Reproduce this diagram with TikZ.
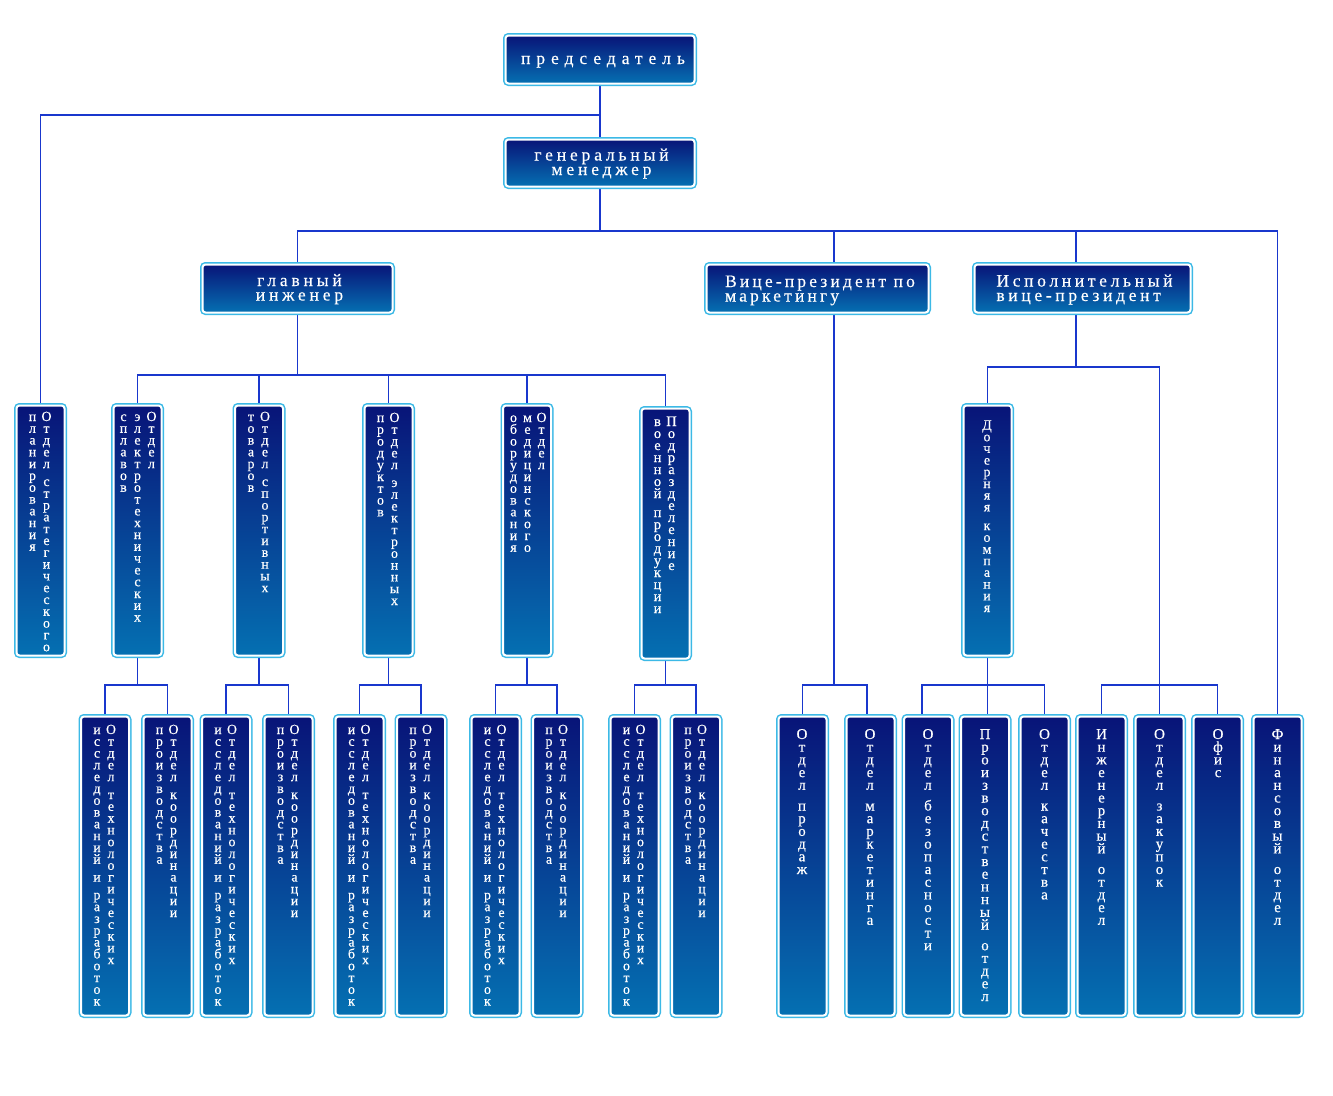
\documentclass[tikz,border=0pt]{standalone}
\usepackage{fontspec}
\setmainfont{Liberation Serif}
\usetikzlibrary{backgrounds}
\definecolor{boxtop}{RGB}{8,20,120}
\definecolor{boxbot}{RGB}{5,112,178}
\definecolor{boxrim}{RGB}{60,185,230}
\definecolor{wirecol}{RGB}{25,55,205}
\ExplSyntaxOn
\dim_new:N \l_vs_pitch_dim
\dim_new:N \l_vs_gap_dim
\seq_new:N \l_vs_words_seq
\bool_new:N \l_vs_first_bool
\NewDocumentCommand \vst { m }
 {
  \vtop
   {
    \baselineskip=\l_vs_pitch_dim
    \lineskiplimit=-\maxdimen
    \lineskip=0pt
    \seq_set_split:Nnn \l_vs_words_seq { ~ } { #1 }
    \bool_set_true:N \l_vs_first_bool
    \seq_map_inline:Nn \l_vs_words_seq
     {
      \bool_if:NF \l_vs_first_bool { \kern \l_vs_gap_dim }
      \bool_set_false:N \l_vs_first_bool
      \tl_map_inline:nn { ##1 } { \hbox_to_wd:nn { 0pt } { \hss ####1 \hss } }
     }
   }
 }
\NewDocumentCommand \setvs { m m }
 { \dim_set:Nn \l_vs_pitch_dim {#1} \dim_set:Nn \l_vs_gap_dim {#2} }
\ExplSyntaxOff
\newcommand\twocol[2]{\hbox{\vst{#2}\hskip14pt\vst{#1}}}
\newcommand\threecol[3]{\hbox{\vst{#3}\hskip14pt\vst{#2}\hskip14pt\vst{#1}}}
\newcommand\tlc[2]{\vtop{\baselineskip=14.5pt\halign{\hfil##\hfil\cr#1\cr#2\cr}}}
\newcommand\tll[2]{\vtop{\baselineskip=14.5pt\halign{##\hfil\cr#1\cr#2\cr}}}
\tikzset{
  bx/.style={rectangle, rounded corners=3pt, inner sep=0pt, top color=boxtop,
    bottom color=boxbot, draw=white, line width=2pt,
    preaction={draw=boxrim, line width=5pt}},
  wire/.style={draw=wirecol, line width=1.2pt},
  htxt/.style={text=white, inner sep=0pt, anchor=base,
    font=\fontsize{17.5}{14.5}\selectfont\addfontfeatures{LetterSpace=22,FakeBold=0.3}},
  vtxtL/.style={text=white, inner sep=0pt, anchor=base,
    font=\fontsize{14}{14}\selectfont\addfontfeatures{FakeBold=0.35}\setvs{11.8pt}{6pt}},
  vtxtR/.style={text=white, inner sep=0pt, anchor=base,
    font=\fontsize{15}{15}\selectfont\addfontfeatures{FakeBold=0.35}\setvs{12.7pt}{8pt}}
}
\newcommand\bx[5]{\node[bx, minimum width={#4pt-5pt}, minimum height={#5pt-5pt}] (#1) at (#2,#3) {};}
\begin{document}
\begin{tikzpicture}[x=1pt,y=-1pt]
\useasboundingbox (0,0) rectangle (1333,1095);
% ---- boxes
\bx{chair}{600}{59.5}{194}{53}
\bx{gm}{600}{163}{194}{52}
\bx{chief}{297.5}{288.5}{195}{53}
\bx{vpm}{817.5}{288.5}{227}{53}
\bx{evp}{1082.5}{288.5}{221}{53}
\bx{strat}{40.5}{530.5}{53}{255}
\bx{elec}{137.5}{530.5}{53}{255}
\bx{sport}{259}{530.5}{53}{255}
\bx{electr}{388.5}{530.5}{53}{255}
\bx{med}{527}{530.5}{53}{255}
\bx{mil}{665.5}{533.5}{53}{255}
\bx{sub}{987.5}{530.5}{53}{255}
\bx{a1}{105}{866}{53}{304}
\bx{a2}{167.5}{866}{53}{304}
\bx{b1}{226}{866}{53}{304}
\bx{b2}{288.5}{866}{53}{304}
\bx{c1}{359.5}{866}{53}{304}
\bx{c2}{421}{866}{53}{304}
\bx{d1}{495.5}{866}{53}{304}
\bx{d2}{557}{866}{53}{304}
\bx{e1}{634.5}{866}{53}{304}
\bx{e2}{696}{866}{53}{304}
\bx{r1}{802.5}{866}{53}{304}
\bx{r2}{870.5}{866}{53}{304}
\bx{r3}{928}{866}{53}{304}
\bx{r4}{985}{866}{53}{304}
\bx{r5}{1044.5}{866}{53}{304}
\bx{r6}{1101.5}{866}{53}{304}
\bx{r7}{1159.5}{866}{53}{304}
\bx{r8}{1217.5}{866}{53}{304}
\bx{fin}{1277.5}{866}{53}{304}
% ---- horizontal texts
\node[htxt, font=\fontsize{17.5}{14.5}\selectfont\addfontfeatures{LetterSpace=34,FakeBold=0.3}] (t-chair) at (603,64) {председатель};
\node[htxt] (t-gm) at (601.5,160.5) {\tlc{генеральный}{менеджер}};
\node[htxt] (t-chief) at (299.5,286) {\tlc{главный}{инженер}};
\node[htxt, font=\fontsize{17.5}{14.5}\selectfont\addfontfeatures{LetterSpace=18,FakeBold=0.3}] (t-vpm) at (820,287) {\tll{Вице-президент по}{маркетингу}};
\node[htxt, font=\fontsize{17.5}{14.5}\selectfont\addfontfeatures{LetterSpace=21,FakeBold=0.3}] (t-evp) at (1084.5,286.5) {\tll{Исполнительный}{вице-президент}};
% ---- row 2 texts
\node[vtxtL] (t-strat) at (39.5,421) {\twocol{Отдел стратегического}{планирования}};
\node[vtxtL] (t-elec) at (137.5,421) {\threecol{Отдел}{электротехнических}{сплавов}};
\node[vtxtL] (t-sport) at (258,421) {\twocol{Отдел спортивных}{товаров}};
\node[vtxtL] (t-electr) at (387.5,422) {\twocol{Отдел электронных}{продуктов}};
\node[vtxtL] (t-med) at (527.5,422) {\threecol{Отдел}{медицинского}{оборудования}};
\node[vtxtL, font=\fontsize{14.5}{15}\selectfont\addfontfeatures{FakeBold=0.35}\setvs{12pt}{7pt}] (t-mil) at (664.5,426) {\twocol{Подразделение}{военной продукции}};
\node[vtxtL, font=\fontsize{14}{15}\selectfont\addfontfeatures{FakeBold=0.35}\setvs{11.7pt}{7pt}] (t-sub) at (987,429.5) {\vst{Дочерняя компания}};
% ---- row 3 texts
\node[vtxtL] (t-a1) at (104,734) {\twocol{Отдел технологических}{исследований и разработок}};
\node[vtxtL] (t-a2) at (166.5,734) {\twocol{Отдел координации}{производства}};
\node[vtxtL] (t-b1) at (225,734) {\twocol{Отдел технологических}{исследований и разработок}};
\node[vtxtL] (t-b2) at (287.5,734) {\twocol{Отдел координации}{производства}};
\node[vtxtL] (t-c1) at (358.5,734) {\twocol{Отдел технологических}{исследований и разработок}};
\node[vtxtL] (t-c2) at (420,734) {\twocol{Отдел координации}{производства}};
\node[vtxtL] (t-d1) at (494.5,734) {\twocol{Отдел технологических}{исследований и разработок}};
\node[vtxtL] (t-d2) at (556,734) {\twocol{Отдел координации}{производства}};
\node[vtxtL] (t-e1) at (633.5,734) {\twocol{Отдел технологических}{исследований и разработок}};
\node[vtxtL] (t-e2) at (695,734) {\twocol{Отдел координации}{производства}};
\node[vtxtR] (t-r1) at (802,739) {\vst{Отдел продаж}};
\node[vtxtR] (t-r2) at (870,739) {\vst{Отдел маркетинга}};
\node[vtxtR] (t-r3) at (928,739) {\vst{Отдел безопасности}};
\node[vtxtR] (t-r4) at (985,739) {\vst{Производственный отдел}};
\node[vtxtR] (t-r5) at (1044.5,739) {\vst{Отдел качества}};
\node[vtxtR] (t-r6) at (1101.5,739) {\vst{Инженерный отдел}};
\node[vtxtR] (t-r7) at (1159.5,739) {\vst{Отдел закупок}};
\node[vtxtR] (t-r8) at (1218,739) {\vst{Офис}};
\node[vtxtR] (t-fin) at (1277.5,739) {\vst{Финансовый отдел}};
% ---- connectors
\begin{pgfonlayer}{background}
\fill[white] (0,0) rectangle (1333,1095);
\coordinate (b115) at (0,115);
\coordinate (b231) at (0,231);
\coordinate (b375) at (0,375);
\coordinate (b367) at (0,367);
\coordinate (b685) at (0,685);
\draw[wire] (chair.south) -- (gm.north);
\draw[wire] (chair.south |- b115) -| (strat.north);
\draw[wire] (gm.south) -- (gm.south |- b231);
\draw[wire] (chief.north) |- (fin.north |- b231) -- (fin.north);
\draw[wire] ([xshift=16.5pt]vpm.north) -- ([xshift=16.5pt]vpm.north |- b231);
\draw[wire] ([xshift=-6.5pt]evp.north) -- ([xshift=-6.5pt]evp.north |- b231);
\draw[wire] (chief.south) -- (chief.south |- b375);
\draw[wire] (elec.north) |- (mil.north |- b375) -- (mil.north);
\draw[wire] (sport.north) -- (sport.north |- b375);
\draw[wire] (electr.north) -- (electr.north |- b375);
\draw[wire] (med.north) -- (med.north |- b375);
\draw[wire] (elec.south) -- (elec.south |- b685);
\draw[wire] (a1.north) |- (a2.north |- b685) -- (a2.north);
\draw[wire] (sport.south) -- (sport.south |- b685);
\draw[wire] (b1.north) |- (b2.north |- b685) -- (b2.north);
\draw[wire] (electr.south) -- (electr.south |- b685);
\draw[wire] (c1.north) |- (c2.north |- b685) -- (c2.north);
\draw[wire] (med.south) -- (med.south |- b685);
\draw[wire] (d1.north) |- (d2.north |- b685) -- (d2.north);
\draw[wire] (mil.south) -- (mil.south |- b685);
\draw[wire] (e1.north) |- (e2.north |- b685) -- (e2.north);
\draw[wire] ([xshift=16.5pt]vpm.south) -- ([xshift=16.5pt]vpm.south |- b685);
\draw[wire] (r1.north) |- ([xshift=-3.5pt]r2.north |- b685) -- ([xshift=-3.5pt]r2.north);
\draw[wire] ([xshift=-6.5pt]evp.south) -- ([xshift=-6.5pt]evp.south |- b367);
\draw[wire] (sub.north) |- (r7.north |- b367) -- (r7.north);
\draw[wire] (r6.north) |- (r8.north |- b685) -- (r8.north);
\draw[wire] (sub.south) -- (sub.south |- r4.north);
\draw[wire] ([xshift=-6pt]r3.north) |- (r5.north |- b685) -- (r5.north);
\end{pgfonlayer}
\end{tikzpicture}
\end{document}
